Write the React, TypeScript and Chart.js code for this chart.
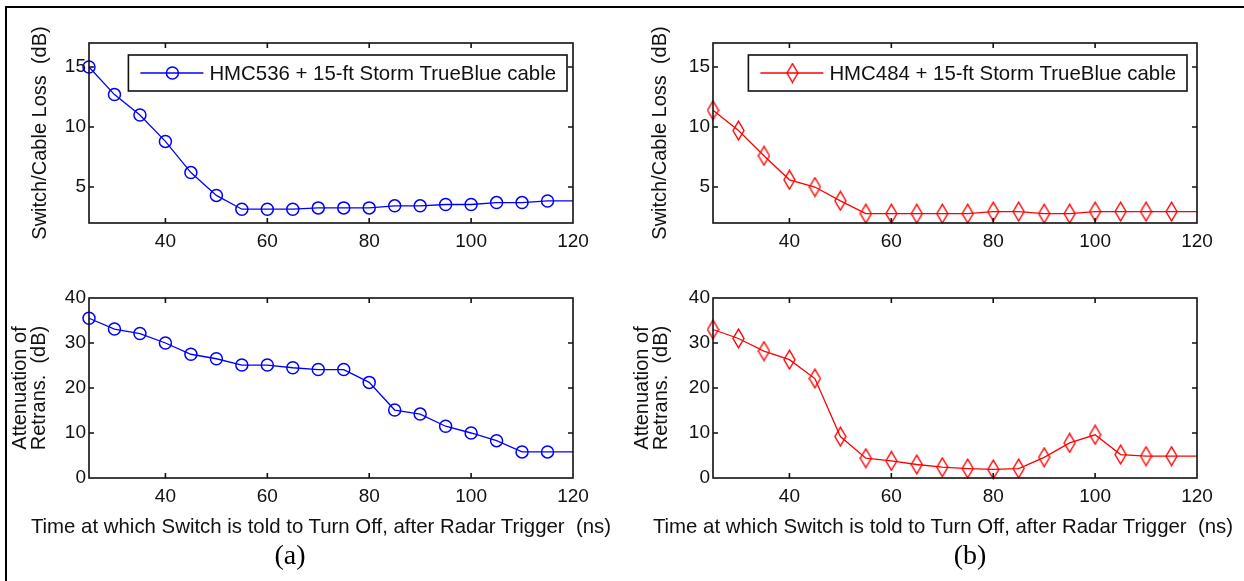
import React, { useEffect, useRef } from 'react';
import { Chart, registerables } from 'chart.js';

Chart.register(...registerables);

// ---------- data ----------
const timeNs = [25, 30, 35, 40, 45, 50, 55, 60, 65, 70, 75, 80, 85, 90, 95, 100, 105, 110, 115, 120];
const lossHMC536 = [15.0, 12.7, 11.0, 8.8, 6.2, 4.3, 3.15, 3.15, 3.15, 3.26, 3.26, 3.26, 3.43, 3.43, 3.54, 3.54, 3.7, 3.7, 3.84, 3.84];
const lossHMC484 = [11.4, 9.7, 7.6, 5.6, 5.0, 3.85, 2.78, 2.78, 2.78, 2.78, 2.78, 2.95, 2.95, 2.78, 2.78, 2.95, 2.95, 2.95, 2.95, 2.95];
const attenHMC536 = [35.5, 33.1, 32.1, 30.0, 27.5, 26.5, 25.1, 25.1, 24.5, 24.1, 24.1, 21.25, 15.1, 14.2, 11.5, 10.0, 8.3, 5.8, 5.8, 5.8];
const attenHMC484 = [33.0, 31.0, 28.2, 26.3, 22.1, 9.2, 4.4, 3.8, 3.0, 2.4, 2.1, 1.9, 2.1, 4.6, 7.8, 9.6, 5.2, 4.85, 4.85, 4.85];
const markerShown = [true, true, true, true, true, true, true, true, true, true, true, true, true, true, true, true, true, true, true, false];

const xTickValues = [40, 60, 80, 100, 120];
const lossTickValues = [5, 10, 15];
const attenTickValues = [0, 10, 20, 30, 40];

const legendHMC536 = 'HMC536 + 15-ft Storm TrueBlue cable';
const legendHMC484 = 'HMC484 + 15-ft Storm TrueBlue cable';
const lossTitle = 'Switch/Cable Loss  (dB)';
const attenTitle = ['Attenuation of', 'Retrans.  (dB)'];
const xTitle = 'Time at which Switch is told to Turn Off, after Radar Trigger  (ns)';
const panelLabels = ['(a)', '(b)'];

const FONT = '"Liberation Sans", Arial, Helvetica, sans-serif';
const TEXT = '#111';
const BLUE = '#0000ff';
const RED = '#ff0000';

// ---------- marker ----------
function makeDiamond(color: string): HTMLCanvasElement {
  const c = document.createElement('canvas');
  c.width = 13;
  c.height = 21;
  const g = c.getContext('2d')!;
  g.strokeStyle = color;
  g.lineWidth = 1.4;
  g.beginPath();
  g.moveTo(6.5, 1.2);
  g.lineTo(12, 10.5);
  g.lineTo(6.5, 19.8);
  g.lineTo(1, 10.5);
  g.closePath();
  g.stroke();
  return c;
}

// ---------- plugins ----------
const framePlugin = {
  id: 'mFrame',
  afterDatasetsDraw(chart: any) {
    const { ctx, chartArea: a, scales } = chart;
    ctx.save();
    ctx.strokeStyle = '#111';
    ctx.lineWidth = 1.6;
    ctx.strokeRect(a.left, a.top, a.right - a.left, a.bottom - a.top);
    const L = 5;
    ctx.beginPath();
    const xs = scales.x;
    xs.ticks.forEach((t: any) => {
      if (t.value <= xs.min || t.value >= xs.max) return;
      const px = xs.getPixelForValue(t.value);
      ctx.moveTo(px, a.bottom);
      ctx.lineTo(px, a.bottom - L);
      ctx.moveTo(px, a.top);
      ctx.lineTo(px, a.top + L);
    });
    const ys = scales.y;
    ys.ticks.forEach((t: any) => {
      if (t.value <= ys.min || t.value >= ys.max) return;
      const py = ys.getPixelForValue(t.value);
      ctx.moveTo(a.left, py);
      ctx.lineTo(a.left + L, py);
      ctx.moveTo(a.right, py);
      ctx.lineTo(a.right - L, py);
    });
    ctx.stroke();
    ctx.restore();
  },
};

const legendPlugin = {
  id: 'mLegend',
  afterDatasetsDraw(chart: any, _args: any, opts: any) {
    if (!opts || !opts.show) return;
    const { ctx, chartArea: a } = chart;
    const ds = chart.data.datasets[0];
    ctx.save();
    ctx.font = `20.4px ${FONT}`;
    const tw = ctx.measureText(ds.label).width;
    const h = 36;
    const w = 81 + tw + 11;
    const right = a.right - opts.rightGap;
    const left = right - w;
    const top = a.top + 12;
    ctx.fillStyle = '#fff';
    ctx.fillRect(left, top, w, h);
    ctx.strokeStyle = '#111';
    ctx.lineWidth = 1.6;
    ctx.strokeRect(left, top, w, h);
    const cy = top + h / 2;
    ctx.strokeStyle = ds.borderColor;
    ctx.lineWidth = 1.3;
    ctx.beginPath();
    ctx.moveTo(left + 12, cy);
    ctx.lineTo(left + 75, cy);
    ctx.stroke();
    const mx = left + 44;
    const ps = ds.pointStyle;
    if (ps && typeof ps === 'object') {
      ctx.drawImage(ps, mx - ps.width / 2, cy - ps.height / 2);
    } else {
      ctx.lineWidth = 1.5;
      ctx.beginPath();
      ctx.arc(mx, cy, 6, 0, Math.PI * 2);
      ctx.stroke();
    }
    ctx.fillStyle = TEXT;
    ctx.textBaseline = 'middle';
    ctx.textAlign = 'left';
    ctx.fillText(ds.label, left + 81, cy + 1);
    ctx.restore();
  },
};

// ---------- panel ----------
type PanelSpec = {
  x: number; y: number; w: number; h: number;
  pad: { left: number; top: number; right: number; bottom: number };
  yWidth: number; xHeight: number;
  values: number[]; color: string; marker: 'circle' | 'diamond';
  label: string; showLegend: boolean; legendGap: number;
  yMin: number; yMax: number; yTicks: number[];
  yTitle: string | string[]; yTitleLineHeight: number;
};

function Panel({ spec }: { spec: PanelSpec }) {
  const ref = useRef<HTMLCanvasElement>(null);
  useEffect(() => {
    const style = spec.marker === 'diamond' ? makeDiamond(spec.color) : 'circle';
    const chart = new Chart(ref.current!, {
      type: 'line',
      data: {
        datasets: [
          {
            label: spec.label,
            data: timeNs.map((t, i) => ({ x: t, y: spec.values[i] })),
            borderColor: spec.color,
            borderWidth: 1.3,
            pointStyle: style as any,
            pointRadius: markerShown.map((m) => (m ? 6 : 0)),
            pointBorderWidth: 1.5,
            pointBorderColor: spec.color,
            pointBackgroundColor: 'rgba(0,0,0,0)',
            tension: 0,
            fill: false,
            clip: false as any,
          },
        ],
      },
      options: {
        responsive: false,
        animation: false,
        devicePixelRatio: 1,
        events: [],
        layout: { padding: spec.pad },
        plugins: {
          legend: { display: false },
          tooltip: { enabled: false },
          mLegend: { show: spec.showLegend, rightGap: spec.legendGap },
        } as any,
        scales: {
          x: {
            type: 'linear',
            min: 25,
            max: 120,
            afterBuildTicks: (s: any) => {
              s.ticks = xTickValues.map((v) => ({ value: v }));
            },
            afterFit: (s: any) => {
              s.height = spec.xHeight;
            },
            grid: { display: false, drawTicks: false },
            border: { display: false },
            ticks: { padding: 7, color: TEXT, font: { size: 19, family: FONT }, maxRotation: 0, autoSkip: false },
          },
          y: {
            type: 'linear',
            min: spec.yMin,
            max: spec.yMax,
            afterBuildTicks: (s: any) => {
              s.ticks = spec.yTicks.map((v) => ({ value: v }));
            },
            afterFit: (s: any) => {
              s.width = spec.yWidth;
            },
            grid: { display: false, drawTicks: false },
            border: { display: false },
            ticks: { padding: 3, color: TEXT, font: { size: 19, family: FONT }, autoSkip: false },
            title: {
              display: true,
              text: spec.yTitle,
              color: TEXT,
              padding: 0,
              font: { size: 20, family: FONT, lineHeight: spec.yTitleLineHeight },
            },
          },
        },
      },
      plugins: [framePlugin, legendPlugin],
    } as any);
    return () => chart.destroy();
  }, []);
  return (
    <canvas
      ref={ref}
      width={spec.w}
      height={spec.h}
      style={{ position: 'absolute', left: spec.x, top: spec.y, width: spec.w, height: spec.h, display: 'block' }}
    />
  );
}

const panels: PanelSpec[] = [
  {
    x: 0, y: 0, w: 622, h: 265, pad: { left: 30, top: 43, right: 49, bottom: 0 }, yWidth: 59, xHeight: 42,
    values: lossHMC536, color: BLUE, marker: 'circle', label: legendHMC536, showLegend: true, legendGap: 6,
    yMin: 2, yMax: 17, yTicks: lossTickValues, yTitle: lossTitle, yTitleLineHeight: 1,
  },
  {
    x: 0, y: 265, w: 622, h: 316, pad: { left: 11, top: 33, right: 49, bottom: 0 }, yWidth: 78, xHeight: 103,
    values: attenHMC536, color: BLUE, marker: 'circle', label: legendHMC536, showLegend: false, legendGap: 6,
    yMin: 0, yMax: 40, yTicks: attenTickValues, yTitle: attenTitle, yTitleLineHeight: 0.95,
  },
  {
    x: 622, y: 0, w: 622, h: 265, pad: { left: 28, top: 43, right: 47, bottom: 0 }, yWidth: 63, xHeight: 42,
    values: lossHMC484, color: RED, marker: 'diamond', label: legendHMC484, showLegend: true, legendGap: 10,
    yMin: 2, yMax: 17, yTicks: lossTickValues, yTitle: lossTitle, yTitleLineHeight: 1,
  },
  {
    x: 622, y: 265, w: 622, h: 316, pad: { left: 11, top: 33, right: 47, bottom: 0 }, yWidth: 80, xHeight: 103,
    values: attenHMC484, color: RED, marker: 'diamond', label: legendHMC484, showLegend: false, legendGap: 10,
    yMin: 0, yMax: 40, yTicks: attenTickValues, yTitle: attenTitle, yTitleLineHeight: 0.95,
  },
];

export default function App() {
  const xTitleStyle: React.CSSProperties = {
    position: 'absolute', top: 516, transform: 'translateX(-50%)', whiteSpace: 'pre',
    font: `20.4px ${FONT}`, lineHeight: '20px', color: TEXT,
  };
  const capStyle: React.CSSProperties = {
    position: 'absolute', top: 541, transform: 'translateX(-50%)', whiteSpace: 'pre',
    font: '28px "Liberation Serif", "Times New Roman", serif', lineHeight: '28px', color: '#000',
  };
  return (
    <div style={{ position: 'fixed', left: 0, top: 0, width: 1244, height: 581, overflow: 'hidden', background: '#fff' }}>
      <div style={{ position: 'absolute', left: 5, top: 6, width: 1300, height: 700, borderLeft: '2px solid #000', borderTop: '2px solid #000' }} />
      {panels.map((p, i) => (
        <Panel key={i} spec={p} />
      ))}
      <div style={{ ...xTitleStyle, left: 321 }}>{xTitle}</div>
      <div style={{ ...xTitleStyle, left: 943 }}>{xTitle}</div>
      <div style={{ ...capStyle, left: 290 }}>{panelLabels[0]}</div>
      <div style={{ ...capStyle, left: 970 }}>{panelLabels[1]}</div>
    </div>
  );
}
